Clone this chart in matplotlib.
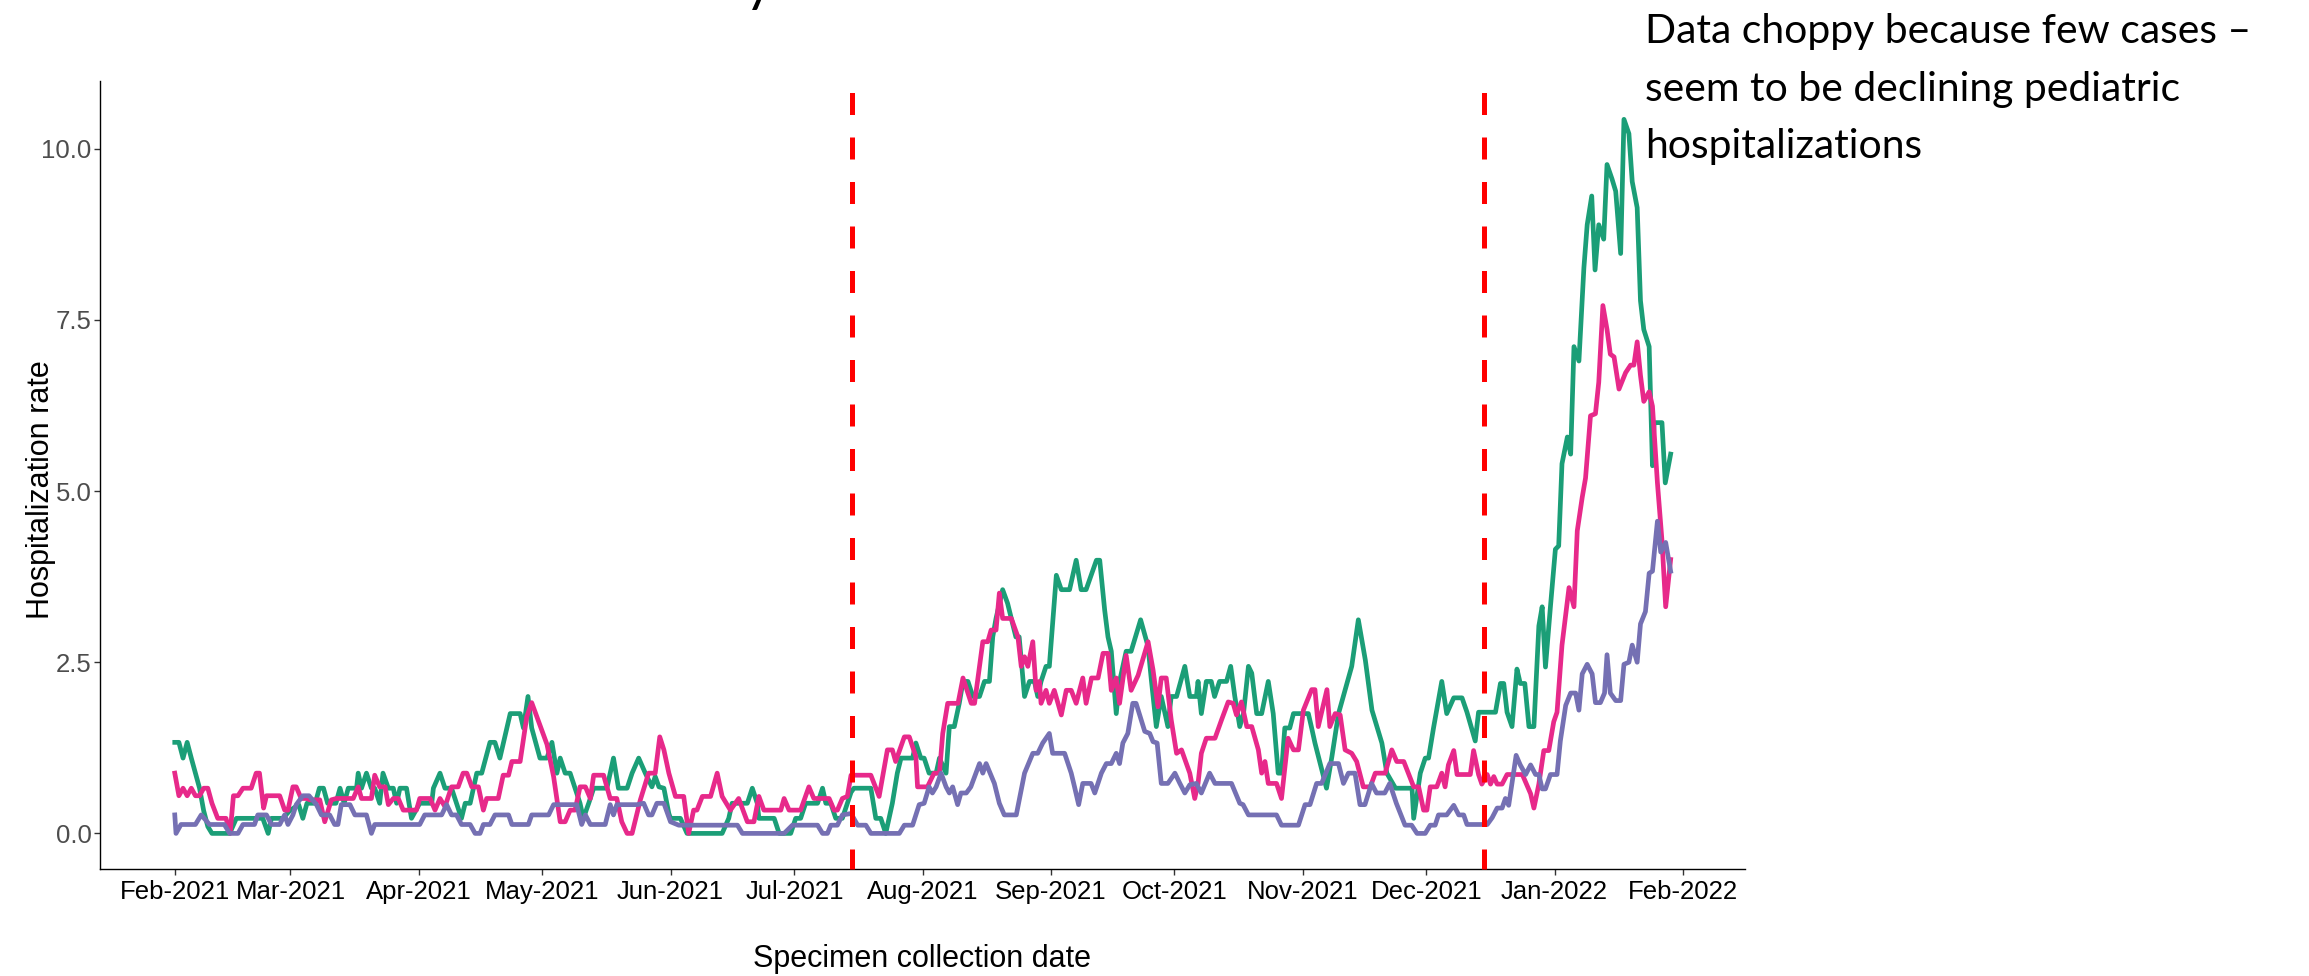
import numpy as np
import pandas as pd
import matplotlib
matplotlib.use('Agg')
import matplotlib.pyplot as plt
import matplotlib.dates as mdates

plt.rcParams['font.family'] = ['Liberation Sans', 'DejaVu Sans']

# days after 2021-02-01 and hospitalization rate
start = pd.Timestamp('2021-02-01')
cutoffs = ['2021-07-15', '2021-12-15']
month_ticks = pd.date_range('2021-02-01', '2022-02-01', freq='MS')
y_ticks = [0, 2.5, 5, 7.5, 10]
y_labels = ['0.0', '2.5', '5.0', '7.5', '10.0']

green_day = [0, 1, 2, 3, 4, 5, 6, 7, 8, 9, 13.3, 14.9, 21.3, 22.6, 23.4, 26.2, 27.8, 30, 31, 32, 34, 35, 36, 37, 39, 40, 41, 42, 44,
             44.4, 45.2, 46.4, 47.6, 48.4, 49.6, 50.4, 51.7, 52.9, 53.7, 54.5, 56.1, 57.3, 59.3, 62.2, 62.6, 64.2, 65.4, 67.0, 68.2,
             69.4, 70.3, 71.5, 73.1, 74.3, 76.3, 77.5, 78.7, 81.2, 83.6, 84.4, 85.5, 86.4, 88.4, 90.1, 91.3, 92.5, 93.3, 94.5, 95.7,
             96.9, 98.1, 98.9, 100.2, 101.4, 104.6, 106.2, 107.4, 109.5, 110.7,
             112.3, 113.9, 115.5, 116.3, 117.2, 118.4, 119.6, 120, 122.4, 124, 132.5, 134.1, 134.9, 138.6, 139.8, 141, 141.4, 145.1,
             146.3, 149.1, 150.3, 151.5, 152.7, 155.6, 156.8, 157.6, 158.8, 160, 161.6, 163.7, 164.4, 168.5, 169.7, 170.9, 172.1,
             173.7, 174.9, 175.8, 178.6, 179.4, 180.6, 181.4, 182.6, 184.3, 185.1, 186.7, 187.5, 188.7, 189.9, 190.8, 192, 193.2,
             194.8, 196, 197.2, 198, 198.8, 200.4, 201.6, 203.6, 204.4, 205.7, 206.9, 208.1, 208.9, 209.7, 210.9, 211.7, 213.4,
             214.6, 216.6, 218.2, 219.4, 220.6, 223.1, 223.9, 225.1, 225.9, 226.7, 227.9, 228.7,
             230.3, 231.5, 233.8, 235.6, 236.4, 237.6, 238.8, 240.4, 241.2, 242.5, 244.5, 245.7, 247.3, 247.7, 248.5, 249.7, 250.9,
             251.7, 252.9, 254.6, 255.6, 256.6, 257.8, 258.7, 259.9, 260.7, 261.9, 263.1, 264.7, 265.9, 267.1, 267.9, 268.7, 269.9,
             270.8, 274.4, 275.2, 276.0, 278.8, 280.1, 281.7, 284.9, 286.5, 288.2, 289.8, 292.2, 293.4, 295.5, 299.5, 299.9, 301.5,
             302.7, 303.5, 304.7, 306.7, 307.9,
             309.6, 311.6, 312.8, 314.8, 315.6, 319.7, 320.9, 321.7, 322.5, 323.7, 324.9, 325.7, 326.8, 327.8, 329.0, 330.2, 331.0,
             331.8, 333.0, 334.2, 335.0, 335.8, 337.1, 337.9, 338.7, 339.9, 341.1, 341.9, 343.0, 343.8, 344.7, 345.9, 346.7, 347.9,
             348.8, 350.0, 350.8, 352.0, 352.8, 354.0, 354.8, 355.6, 356.9, 357.7, 358.1, 360.0, 360.8, 362.1]
green_val = [1.33, 1.33, 1.1, 1.33, 1.1, 0.88, 0.66, 0.33, 0.1, 0, 0, 0.22, 0.22, 0, 0.22, 0.22, 0.33, 0.42, 0.22, 0.44, 0.44, 0.66, 0.66,
             0.44, 0.44, 0.66, 0.44, 0.66, 0.66,
             0.88, 0.66, 0.88, 0.66, 0.66, 0.44, 0.88, 0.66, 0.66, 0.44, 0.66, 0.66, 0.22, 0.44, 0.44, 0.66, 0.88, 0.66, 0.66, 0.44,
             0.22, 0.44, 0.44, 0.88, 0.88, 1.33, 1.33, 1.1, 1.75, 1.75, 1.54, 2.0, 1.54, 1.1, 1.1, 1.33, 0.88, 1.1, 0.88, 0.88,
             0.66, 0.44, 0.22, 0.44, 0.66, 0.66, 1.1, 0.66, 0.66, 0.88,
             1.1, 0.88, 0.68, 0.83, 0.68, 0.66, 0.29, 0.22, 0.22, 0, 0, 0.22, 0.44, 0.44, 0.66, 0.44, 0.22, 0.22,
             0, 0, 0.22, 0.22, 0.44, 0.44, 0.66, 0.44, 0.44, 0.22, 0.22, 0.6, 0.66, 0.66, 0.22, 0.22, 0,
             0.44, 0.88, 1.1, 1.1, 1.32, 1.1, 1.1, 0.88, 0.88, 1.1, 0.88, 1.56, 1.56, 1.9, 2.22, 2.22, 2.0,
             2.0, 2.22, 2.22, 2.87, 3.14, 3.56, 3.36, 2.87, 2.87, 2.0, 2.22, 2.22, 2.0, 2.22, 2.44, 2.44, 3.77,
             3.56, 3.56, 3.99, 3.56, 3.56, 3.99, 3.99, 3.26, 2.87, 2.66, 1.75, 2.22,
             2.66, 2.66, 3.12, 2.73, 2.24, 1.56, 2.0, 1.56, 2.0, 2.0, 2.44, 2.0, 2.0, 2.22, 1.75, 2.22, 2.22,
             2.0, 2.22, 2.22, 2.44, 2.0, 1.56, 1.75, 2.44, 2.34, 1.75, 1.75, 2.22, 1.75, 0.88, 0.88, 1.54, 1.54,
             1.75, 1.75, 1.54, 1.32, 0.66, 1.12, 1.75, 2.44, 3.12, 2.53, 1.8, 1.32, 0.88, 0.66, 0.66, 0.22, 0.88,
             1.1, 1.1, 1.54, 2.22, 1.75,
             1.98, 1.98, 1.77, 1.35, 1.77, 1.77, 2.19, 2.19, 1.77, 1.56, 2.4, 2.19, 2.19, 1.56, 1.56, 3.03, 3.31,
             2.43, 3.31, 4.15, 4.2, 5.4, 5.79, 5.54, 7.11, 6.9, 8.26, 8.89, 9.31, 8.23, 8.89, 8.68, 9.77, 9.56,
             9.38, 8.47, 10.43, 10.22, 9.52, 9.14, 7.78, 7.36, 7.11, 5.37, 6.0, 6.0, 5.12, 5.54]

pink_day = [0, 1, 2, 3, 4, 5, 6, 7, 8, 9, 10.4, 12.4, 13.4, 14.2, 15.3, 16.5, 18.5, 19.7, 20.5, 21.5, 22.2, 25.4, 26.6, 27.4, 28.6,
            29.4, 30.6, 31.9, 32.7, 35.1, 36.3, 37.9, 39.1, 43.2, 44.4, 45.2, 47.6, 48.4, 49.6, 50.9, 51.7, 52.9, 54.1, 55.3, 58.5,
            59.3, 61.8, 63.0, 64.2, 65.4, 67.0, 68.6, 69.8, 70.7, 71.9, 73.5, 74.7, 75.5, 78.3, 79.5, 80.8, 81.6, 83.6, 85.2, 86.4,
            90.1, 91.7, 93.3, 94.5, 95.7, 96.9, 98.1, 99.4, 100.6, 101.4, 103.8, 105.4, 107.0, 108.2, 109.5, 110.7,
            112.7, 114.7, 116.3, 117.4, 118.4, 119.6, 121.2, 123.2, 124.4, 125.6, 126.4, 127.7, 129.7, 131.3, 132.5, 134.5, 136.5,
            138.6, 140.2, 141.4, 142.6, 146.7, 147.5, 148.7, 151.5, 153.5, 154.7, 158.4, 159.6, 160.4, 161.6, 162.8, 163.7, 168.5,
            170.5, 172.5, 173.7, 174.5, 176.6, 177.8, 179.4, 179.8, 182.2, 183.8, 185.1, 185.9, 187.1, 188.0, 189.6, 190.8, 192.8,
            193.6, 195.6, 196.8, 197.6, 198.8, 199.6, 200.4, 202.5, 204.1, 204.9, 205.7, 206.5, 207.7, 208.5, 209.3, 209.7, 210.9,
            211.7, 212.9, 214.6, 215.8, 217.0, 218.2, 219.8, 220.6, 221.9, 223.5, 224.7, 225.9, 226.7, 227.9, 228.7,
            230.3, 231.5, 233.2, 235.6, 236.8, 238.0, 238.8, 240.0, 241.2, 242.5, 243.7, 245.7, 246.9, 247.7, 248.5, 249.7, 251.8,
            253.4, 255.0, 256.2, 257.0, 258.2, 259.5, 260.7, 262.3, 263.1, 263.9, 264.7, 266.7, 267.9, 269.5, 270.8, 272.0, 273.2,
            275.2, 276.0, 276.8, 278.9, 279.6, 280.9, 282.1, 283.3, 284.9, 286.1, 287.7, 289.4, 290.6, 293.0, 294.6, 295.8, 297.5,
            299.9, 301.1, 302.3, 303.1, 303.9, 305.5, 306.7, 307.5,
            308.3, 309.6, 310.4, 313.6, 314.4, 315.6, 316.4, 317.7, 318.5, 319.3, 320.1, 321.3, 322.5, 326.2, 327.4, 328.2, 329.0,
            330.2, 331.4, 332.6, 333.8, 334.6, 335.8, 337.5, 338.7, 339.5, 340.7, 341.5, 342.7, 343.9, 344.7, 345.7, 346.7, 347.5,
            348.4, 349.6, 351.2, 352.4, 353.2, 354.0, 354.8, 355.6, 356.9, 357.7, 358.9, 360.0, 360.9, 362.1]
pink_val = [0.88, 0.55, 0.66, 0.55, 0.66, 0.55, 0.55, 0.66, 0.66, 0.44, 0.22, 0.22, 0, 0.55, 0.55, 0.66, 0.66, 0.88, 0.88, 0.37, 0.55,
            0.55, 0.34, 0.34, 0.68, 0.68, 0.51, 0.51, 0.49, 0.49, 0.17, 0.49, 0.51, 0.51, 0.68, 0.51, 0.51, 0.85, 0.68, 0.68, 0.42,
            0.51, 0.51, 0.34, 0.34, 0.51, 0.51, 0.34, 0.51, 0.39, 0.68, 0.68, 0.88, 0.88, 0.68, 0.68, 0.34, 0.51, 0.51, 0.85, 0.85,
            1.05, 1.05, 1.7, 1.91, 1.3, 0.83, 0.17, 0.17, 0.34, 0.34, 0.68, 0.68, 0.51, 0.85, 0.85, 0.51, 0.51, 0.17, 0, 0,
            0.49, 0.88, 0.88, 1.41, 1.22, 0.88, 0.54, 0.54, 0, 0.34, 0.34, 0.54, 0.54, 0.88, 0.54, 0.34, 0.51,
            0.17, 0.17, 0.54, 0.34, 0.34, 0.51, 0.34, 0.34, 0.68, 0.51, 0.51, 0.34, 0.34, 0.51, 0.54, 0.85, 0.85,
            0.54, 1.22, 1.22, 1.05, 1.41, 1.41, 1.12, 0.68, 0.68, 0.88, 0.88, 1.46, 1.9, 1.9, 1.9, 2.27, 1.9,
            1.9, 2.8, 2.8, 2.97, 2.97, 3.51, 3.14, 3.14, 2.87, 2.44, 2.58, 2.44, 2.8, 2.09, 2.22, 1.9, 2.09,
            1.9, 2.09, 1.73, 2.09, 2.09, 1.9, 2.27, 1.9, 2.27, 2.27, 2.63, 2.63, 2.09, 2.27, 1.9,
            2.6, 2.09, 2.31, 2.8, 2.39, 1.85, 2.27, 2.27, 1.66, 1.17, 1.22, 0.88, 0.51, 0.73, 1.17, 1.39, 1.39,
            1.66, 1.92, 1.9, 1.73, 1.92, 1.56, 1.56, 1.22, 0.88, 1.05, 0.73, 0.73, 0.51, 1.39, 1.22, 1.22, 1.8,
            2.1, 2.1, 1.56, 2.1, 1.56, 1.75, 1.73, 1.22, 1.17, 1.05, 0.68, 0.68, 0.88, 0.88, 1.22, 1.05, 1.05,
            0.68, 0.68, 0.34, 0.34, 0.68, 0.68, 0.88, 0.68,
            1.0, 1.21, 0.86, 0.86, 1.21, 0.86, 0.72, 0.86, 0.72, 0.83, 0.72, 0.72, 0.86, 0.86, 0.69, 0.58, 0.37,
            0.72, 1.21, 1.21, 1.63, 1.77, 2.75, 3.59, 3.31, 4.42, 4.91, 5.19, 6.1, 6.13, 6.59, 7.71, 7.36, 7.0,
            6.96, 6.49, 6.73, 6.84, 6.84, 7.18, 6.69, 6.31, 6.45, 6.24, 5.12, 4.28, 3.31, 4.0]

purple_day = [0, 0.3, 1.5, 5, 6.4, 8.4, 12, 13.3, 15.3, 16.5, 19.3, 20.1, 22.2, 23.4, 25.4, 26.6, 27.4, 28.6, 29.4, 31, 32.5, 34.3,
              35.5, 37.5, 38.7, 39.5, 40.3, 42.4, 43.6, 46.4, 47.6, 48.4, 59.3, 60.5, 64.6, 65.8, 67, 68.2, 69.4, 71.5, 72.7, 73.9,
              74.7, 76.3, 77.5, 80.8, 81.6, 85.6, 86.4, 90.5, 91.7, 97.3, 98.5, 99.4, 100.6, 104.2, 105.4, 106.2, 107, 111.9,
              113.5, 114.7, 115.5, 116.7, 118.4, 120.0, 122.0, 136.2, 137.4, 147.5, 149.5, 155.6, 156.8, 158.0, 158.8, 160.4,
              161.6, 163.7, 165.3, 167.3, 168.5, 175.4, 176.6, 178.6, 180.2, 181.4, 182.6, 183.4, 184.3, 185.5, 186.7, 187.5,
              188.3, 189.5, 190.3, 191.6, 192.7, 194.8, 195.6, 196.4, 198.4, 199.6, 200.8, 203.7, 205.7, 207.7, 208.9, 210.1,
              211.7, 212.5, 215.4, 217.0, 217.8, 218.8, 219.8, 221.8, 222.7, 224.3, 225.5, 226.7, 227.9, 228.7,
              229.5, 230.7, 231.9, 232.7, 234.8, 236.0, 236.8, 237.8, 238.8, 240.4, 242.1, 243.3, 244.5, 245.7, 247.3, 248.5,
              250.5, 251.8, 255.8, 257.8, 258.6, 259.9, 266.7, 267.9, 272.0, 273.6, 274.8, 276.4, 277.6, 279.6, 281.7, 282.9,
              284.1, 285.7, 286.9, 288.1, 289.7, 290.9, 292.9, 294.1, 295.7, 297.8, 299.4, 300.7, 302.7, 303.9, 305.1, 305.9, 307.9,
              309.6, 310.8, 312.0, 312.8, 317.7, 318.9, 320.1, 321.3, 322.1, 322.9, 324.7, 325.7, 327.0, 328.2, 329.4, 330.2,
              331.0, 331.8, 333.0, 334.6, 335.4, 336.7, 337.9, 339.1, 339.9, 340.7, 341.9, 343.1, 343.9, 345.1, 346.1, 346.7,
              347.5, 348.8, 350.0, 350.8, 352.0, 352.8, 354.0, 354.8, 356.0, 356.9, 357.7, 358.9, 359.7, 360.9, 362.1]
purple_val = [0.27, 0, 0.13, 0.13, 0.27, 0.13, 0.13, 0, 0, 0.13, 0.13, 0.27, 0.27, 0.13, 0.13, 0.27, 0.13, 0.27, 0.42, 0.55, 0.55, 0.42,
              0.27, 0.27, 0.13, 0.13, 0.42, 0.42, 0.27, 0.27, 0, 0.13, 0.13, 0.27, 0.27, 0.42, 0.27, 0.27, 0.13, 0.13, 0, 0,
              0.13, 0.13, 0.27, 0.27, 0.13, 0.13, 0.27, 0.27, 0.42, 0.42, 0.13, 0.27, 0.13, 0.13, 0.42, 0.27, 0.42, 0.42,
              0.44, 0.27, 0.27, 0.44, 0.44, 0.17, 0.12, 0.12, 0, 0, 0.12, 0.12, 0, 0, 0.12, 0.12,
              0.27, 0.29, 0.12, 0.12, 0, 0, 0.12, 0.12, 0.42, 0.44, 0.68, 0.59, 0.68, 0.88, 0.68, 0.59,
              0.68, 0.42, 0.59, 0.59, 0.68, 1.02, 0.88, 1.02, 0.73, 0.44, 0.27, 0.27, 0.88, 1.17, 1.17, 1.32,
              1.46, 1.17, 1.17, 0.88, 0.68, 0.42, 0.73, 0.73, 0.59, 0.88, 1.02, 1.02, 1.17, 1.02,
              1.32, 1.46, 1.9, 1.9, 1.49, 1.46, 1.34, 1.32, 0.73, 0.73, 0.88, 0.73, 0.59, 0.71, 0.73, 0.59,
              0.88, 0.73, 0.73, 0.44, 0.42, 0.27, 0.27, 0.12, 0.12, 0.42, 0.42, 0.73, 0.73, 1.02, 1.02, 0.73,
              0.88, 0.88, 0.42, 0.42, 0.73, 0.59, 0.59, 0.73, 0.44, 0.12, 0.12, 0, 0, 0.12, 0.12, 0.27, 0.27,
              0.41, 0.27, 0.27, 0.13, 0.13, 0.23, 0.37, 0.37, 0.51, 0.41, 1.14, 1.0, 0.86, 1.0, 0.86, 0.86,
              0.65, 0.65, 0.86, 0.86, 1.35, 1.87, 2.05, 2.05, 1.8, 2.33, 2.47, 2.33, 1.91, 1.91, 2.05, 2.61,
              2.05, 1.94, 1.94, 2.47, 2.5, 2.75, 2.5, 3.06, 3.24, 3.8, 3.83, 4.56, 4.11, 4.25, 3.83]

note_lines = ['Data choppy because few cases \u2013',
              'seem to be declining pediatric',
              'hospitalizations']

W, H = 2309, 976
fig = plt.figure(figsize=(W / 100, H / 100), dpi=100)
ax = fig.add_axes([100 / W, 1 - 869 / H, 1645 / W, 788 / H])

x0 = mdates.date2num(start)
series = [(green_day, green_val, '#1B9E77'),
          (pink_day, pink_val, '#E7298A'),
          (purple_day, purple_val, '#7570B3')]
for days, vals, col in series:
    ax.plot(x0 + np.array(days), vals, color=col, lw=3.4, solid_joinstyle='round')

for c in cutoffs:
    xc = mdates.date2num(pd.Timestamp(c))
    ax.plot([xc, xc], [1, 0], transform=ax.get_xaxis_transform(), color='red', lw=3.6,
            linestyle=(6.6, (4.4, 4.5)), clip_on=False, zorder=5)

ax.set_xlim(x0 - 18.1, x0 + 380.1)
ax.set_ylim(-0.52, 10.99)
ax.set_xticks(mdates.date2num(month_ticks))
ax.set_xticklabels([d.strftime('%b-%Y') for d in month_ticks])
ax.set_yticks(y_ticks)
ax.set_yticklabels(y_labels)

for s in ['top', 'right']:
    ax.spines[s].set_visible(False)
for s in ['left', 'bottom']:
    ax.spines[s].set_linewidth(1.0)
    ax.spines[s].set_color('black')
ax.tick_params(axis='x', length=4, width=1, color='#333333', labelsize=18.5, labelcolor='black', pad=4)
ax.tick_params(axis='y', length=4, width=1, color='#333333', labelsize=18.5, labelcolor='#4D4D4D', pad=2)

fig.text(922 / W, 1 - 959 / H, 'Specimen collection date', fontsize=22, ha='center', va='center')
fig.text(41 / W, 1 - 490 / H, 'Hospitalization rate', fontsize=22, ha='center', va='center', rotation=90)

for i, line in enumerate(note_lines):
    fig.text(1645 / W, 1 - (43.5 + 57.2 * i) / H, line, fontsize=29.4, family=['Lato', 'DejaVu Sans'],
             ha='left', va='baseline')

# bottom of a title that was cut off above the picture
fig.text(744 / W, 1.0, 'y', fontsize=40, family=['Lato', 'DejaVu Sans'], ha='left', va='baseline')

fig.savefig('out.png', dpi=100)
